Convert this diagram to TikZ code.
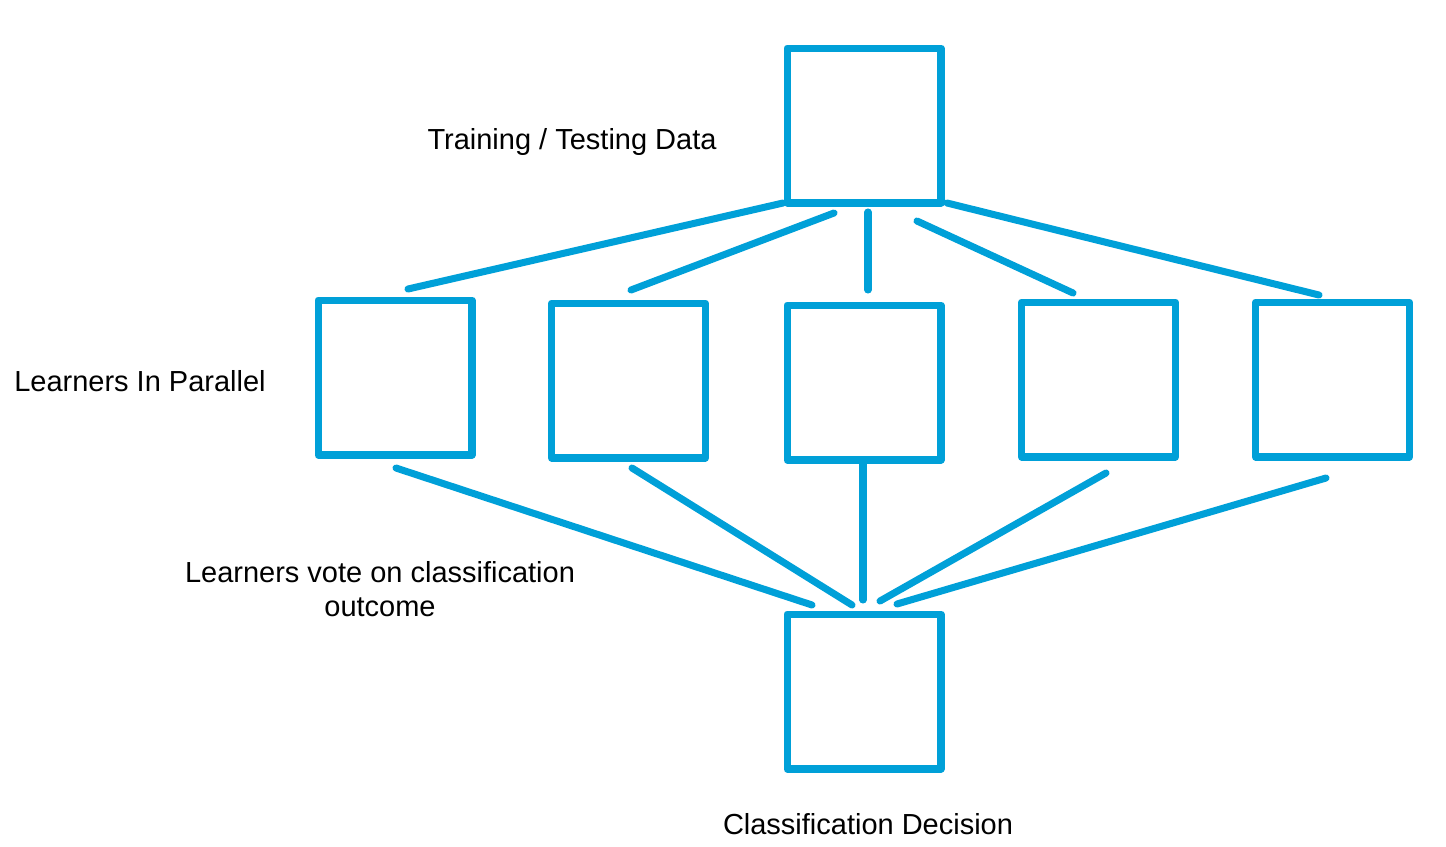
\documentclass[tikz,border=0pt]{standalone}
\usepackage{fontspec}
\setmainfont{Liberation Sans}
\definecolor{lineblue}{RGB}{0,160,216}
\begin{document}
\begin{tikzpicture}[x=0.02cm,y=-0.02cm,
  box/.style={draw=lineblue,line width=4pt,line join=round,inner sep=0pt,
    minimum width=3.08cm,minimum height=3.1cm},
  link/.style={draw=lineblue,line width=4pt,line cap=round},
  lbl/.style={font=\fontsize{16.5pt}{19.5pt}\selectfont,align=center,inner sep=0pt}]
\useasboundingbox (0,0) rectangle (1446,846);
% boxes
\node[box] (top) at (864,125.5) {};
\node[box] (lrn1) at (395,377.5) {};
\node[box] (lrn2) at (628.5,380.5) {};
\node[box] (lrn3) at (864,382.5) {};
\node[box] (lrn4) at (1098.5,379.5) {};
\node[box] (lrn5) at (1332.5,379.5) {};
\node[box] (dec) at (864,691.5) {};
% connector end points
\coordinate (t1) at (783,203); \coordinate (l1) at (408,289);
\coordinate (t2) at (834,213); \coordinate (l2) at (631,290);
\coordinate (t3) at (868,212); \coordinate (l3) at (868,290);
\coordinate (t4) at (917,221); \coordinate (l4) at (1073,293);
\coordinate (t5) at (947,203); \coordinate (l5) at (1319,295);
\coordinate (b1) at (396,468); \coordinate (d1) at (812,605);
\coordinate (b2) at (632,468); \coordinate (d2) at (852,605);
\coordinate (b3) at (863,463); \coordinate (d3) at (863,600);
\coordinate (b4) at (1106,473); \coordinate (d4) at (880,601);
\coordinate (b5) at (1326,478); \coordinate (d5) at (897,604);
\foreach \i in {1,...,5}{
  \draw[link] (t\i) -- (l\i);
  \draw[link] (b\i) -- (d\i);
}
% labels
\node[lbl] (ltrain) at (572,142) {Training / Testing Data};
\node[lbl] (lpar) at (140,381) {Learners In Parallel};
\node[lbl] (lvote) at (380,589) {Learners vote on classification\\outcome};
\node[lbl] (ldec) at (868,824) {Classification Decision};
\end{tikzpicture}
\end{document}
